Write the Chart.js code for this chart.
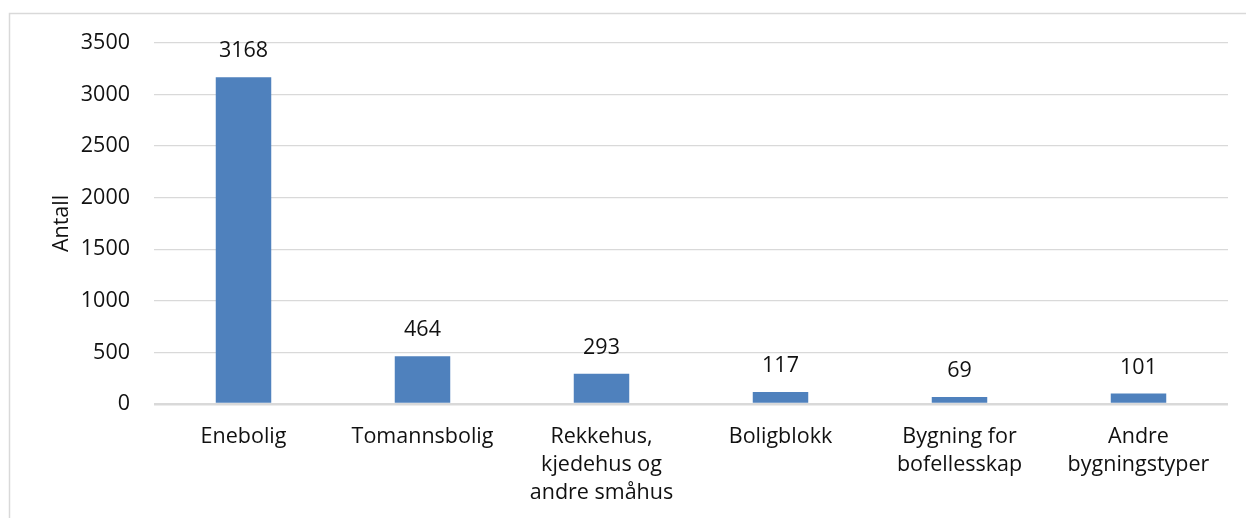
<!DOCTYPE html>
<html>
<head>
<meta charset="utf-8">
<script src="https://cdn.jsdelivr.net/npm/chart.js@4/dist/chart.umd.min.js"></script>
<style>
  body { margin: 0; background: #fff; }
  #wrap { position: absolute; left: 0; top: 0; width: 1246px; height: 518px; }
</style>
</head>
<body>
<div id="wrap"><canvas id="myChart" width="1246" height="518"></canvas></div>
<script>
// data
const categories = [
    ['Enebolig'],
    ['Tomannsbolig'],
    ['Rekkehus,', 'kjedehus og', 'andre småhus'],
    ['Boligblokk'],
    ['Bygning for', 'bofellesskap'],
    ['Andre', 'bygningstyper']
];
const antall = [3168, 464, 293, 117, 69, 101];
const yTicks = [0, 500, 1000, 1500, 2000, 2500, 3000, 3500];

const FONT = '"Open Sans", "Noto Sans", sans-serif';
const FSIZE = 21.5;

// light frame round the chart, like the office export
const framePlugin = {
    id: 'frame',
    beforeDraw(chart) {
        const c = chart.ctx;
        c.save();
        c.strokeStyle = '#d9d9d9';
        c.lineWidth = 1.5;
        c.beginPath();
        c.moveTo(9.5, 600);
        c.lineTo(9.5, 13.5);
        c.lineTo(1300, 13.5);
        c.stroke();
        c.restore();
    }
};

// value labels above each bar
const valueLabels = {
    id: 'valueLabels',
    afterDatasetsDraw(chart) {
        const c = chart.ctx;
        const meta = chart.getDatasetMeta(0);
        c.save();
        c.font = FSIZE + 'px ' + FONT;
        c.fillStyle = '#111';
        c.textAlign = 'center';
        c.textBaseline = 'middle';
        meta.data.forEach((bar, i) => {
            c.fillText(antall[i], bar.x, bar.y - 26);
        });
        c.restore();
    }
};

const ctx = document.getElementById('myChart').getContext('2d');
const myChart = new Chart(ctx, {
    type: 'bar',
    data: {
        labels: categories,
        datasets: [{
            label: 'Antall',
            data: antall,
            backgroundColor: '#4f81bd',
            borderWidth: 0,
            barPercentage: 0.31,
            categoryPercentage: 1
        }]
    },
    options: {
        responsive: false,
        animation: false,
        layout: { padding: { left: 0, right: 18, top: 43, bottom: 0 } },
        plugins: {
            legend: { display: false },
            tooltip: { enabled: false }
        },
        scales: {
            x: {
                grid: { display: false },
                border: { display: false },
                ticks: {
                    color: '#111',
                    font: { family: FONT, size: FSIZE, lineHeight: 1.3 },
                    padding: 11,
                    maxRotation: 0,
                    autoSkip: false
                },
                afterFit(scale) { scale.height = 114; }
            },
            y: {
                min: 0,
                max: 3500,
                afterBuildTicks(scale) {
                    scale.ticks = yTicks.map(v => ({ value: v }));
                },
                grid: {
                    color: '#d9d9d9',
                    lineWidth: c => (c.tick && c.tick.value === 0 ? 2.5 : 1.3),
                    drawTicks: false
                },
                border: { display: false },
                ticks: {
                    color: '#111',
                    font: { family: FONT, size: FSIZE },
                    padding: 24,
                    callback: v => String(v)
                },
                title: {
                    display: true,
                    text: 'Antall',
                    color: '#111',
                    font: { family: FONT, size: FSIZE },
                    padding: { top: 49, bottom: 0 }
                },
                afterFit(scale) { scale.width = 154; }
            }
        }
    },
    plugins: [framePlugin, valueLabels]
});
</script>
</body>
</html>
